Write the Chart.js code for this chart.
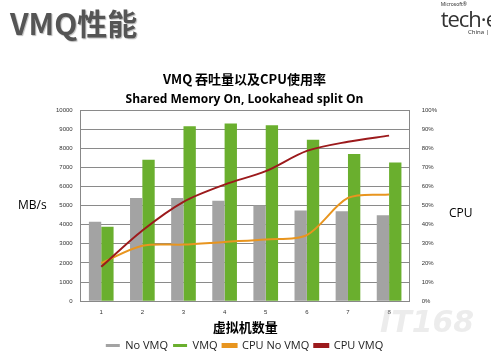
<!DOCTYPE html>
<html lang="zh">
<head>
    <meta charset="UTF-8">
    <title>VMQ性能</title>
    <script src="https://cdn.jsdelivr.net/npm/chart.js"></script>
    <style>
        body {
            margin: 0;
            width: 491px;
            height: 362px;
            background: #fff;
            position: relative;
            overflow: hidden;
            font-family: 'Noto Sans', 'Noto Sans CJK SC', sans-serif;
        }
        #wrap {
            position: absolute;
            left: 0;
            top: 0;
            width: 491px;
            height: 362px;
        }
        .heading {
            position: absolute;
            left: 10px;
            top: 0px;
            font-family: 'Noto Sans CJK SC', sans-serif;
            font-weight: bold;
            font-size: 30px;
            color: #555;
            text-shadow: 1px 1px 1px #bbb;
        }
        .logo {
            position: absolute;
            right: -6px;
            top: 2px;
            color: #333;
            line-height: 1;
        }
        .logo .ms { font-size: 5px; }
        .logo .te { font-size: 22px; font-family: 'Open Sans', sans-serif; letter-spacing: -1px; }
        .logo .cn { font-size: 6px; text-align: right; padding-right: 8px; }
        .axis-label {
            position: absolute;
            font-family: 'Open Sans', sans-serif;
            font-size: 12px;
            color: #000;
        }
        .watermark {
            position: absolute;
            left: 380px;
            top: 304px;
            font-family: 'DejaVu Sans', sans-serif;
            font-style: italic;
            font-weight: bold;
            font-size: 30px;
            color: rgba(200, 200, 200, 0.35);
        }
    </style>
</head>
<body>
    <div id="wrap"><canvas id="vmqChart" width="491" height="362"></canvas></div>
    <div class="heading">VMQ性能</div>
    <div class="logo">
        <div class="ms">Microsoft®</div>
        <div class="te">tech·e</div>
        <div class="cn">China |</div>
    </div>
    <div class="axis-label" style="left:18px; top:196px;">MB/s</div>
    <div class="axis-label" style="left:449px; top:204px;">CPU</div>
    <div class="watermark">IT168</div>

    <script>
        const vmCounts = ['1', '2', '3', '4', '5', '6', '7', '8'];
        const noVmqThroughput = [4150, 5400, 5400, 5250, 5000, 4750, 4700, 4500];
        const vmqThroughput = [3900, 7400, 9150, 9300, 9200, 8450, 7700, 7250];
        const cpuNoVmq = [20, 29, 29.6, 31, 32.3, 34.6, 54, 55.8];
        const cpuVmq = [18, 37, 52, 61, 68, 78.6, 83.4, 86.6];

        const ctx = document.getElementById('vmqChart').getContext('2d');
        const vmqChart = new Chart(ctx, {
            type: 'bar',
            data: {
                labels: vmCounts,
                datasets: [
                    {
                        label: 'No VMQ',
                        data: noVmqThroughput,
                        backgroundColor: '#a3a3a3',
                        yAxisID: 'y',
                        order: 3,
                        categoryPercentage: 0.6,
                        barPercentage: 1.0
                    },
                    {
                        label: 'VMQ',
                        data: vmqThroughput,
                        backgroundColor: '#6aaf2e',
                        yAxisID: 'y',
                        order: 3,
                        categoryPercentage: 0.6,
                        barPercentage: 1.0
                    },
                    {
                        type: 'line',
                        label: 'CPU No VMQ',
                        data: cpuNoVmq,
                        borderColor: '#e8951f',
                        backgroundColor: '#e8951f',
                        borderWidth: 2,
                        pointRadius: 0,
                        tension: 0.3,
                        yAxisID: 'y1',
                        order: 1
                    },
                    {
                        type: 'line',
                        label: 'CPU VMQ',
                        data: cpuVmq,
                        borderColor: '#9c1a1c',
                        backgroundColor: '#9c1a1c',
                        borderWidth: 2,
                        pointRadius: 0,
                        tension: 0.3,
                        yAxisID: 'y1',
                        order: 0
                    }
                ]
            },
            options: {
                responsive: false,
                animation: false,
                layout: {
                    padding: { left: 48, right: 50, top: 71, bottom: 1 }
                },
                plugins: {
                    title: {
                        display: true,
                        text: 'VMQ 吞吐量以及CPU使用率',
                        color: '#000',
                        font: { family: "'Noto Sans CJK SC', sans-serif", size: 13, weight: 'bold' },
                        padding: { top: 0, bottom: 6 }
                    },
                    subtitle: {
                        display: true,
                        text: 'Shared Memory On, Lookahead split On',
                        color: '#000',
                        font: { family: "'Open Sans', sans-serif", size: 12, weight: 'bold' },
                        padding: { top: 0, bottom: 3 }
                    },
                    legend: {
                        position: 'bottom',
                        labels: {
                            color: '#222',
                            boxWidth: 14,
                            boxHeight: 3,
                            padding: 5,
                            font: { family: "'Open Sans', sans-serif", size: 11 },
                            sort: (a, b) => a.datasetIndex - b.datasetIndex
                        }
                    },
                    tooltip: { enabled: false }
                },
                scales: {
                    x: {
                        grid: { display: false },
                        border: { color: '#888' },
                        ticks: {
                            color: '#333',
                            font: { size: 6 },
                            padding: 0
                        },
                        title: {
                            display: true,
                            text: '虚拟机数量',
                            color: '#000',
                            font: { family: "'Noto Sans CJK SC', sans-serif", size: 13, weight: 'bold' },
                            padding: { top: 3, bottom: 0 }
                        }
                    },
                    y: {
                        position: 'left',
                        min: 0,
                        max: 10000,
                        ticks: {
                            stepSize: 1000,
                            color: '#333',
                            font: { size: 6 },
                            padding: 8,
                            callback: v => String(v)
                        },
                        grid: { color: '#8a8a8a', drawTicks: false },
                        border: { color: '#888' }
                    },
                    y1: {
                        position: 'right',
                        min: 0,
                        max: 100,
                        ticks: {
                            stepSize: 10,
                            color: '#333',
                            font: { size: 6 },
                            padding: 4,
                            callback: v => v + '%'
                        },
                        grid: { display: false, drawTicks: true },
                        border: { color: '#888' }
                    }
                }
            }
        });
    </script>
</body>
</html>
